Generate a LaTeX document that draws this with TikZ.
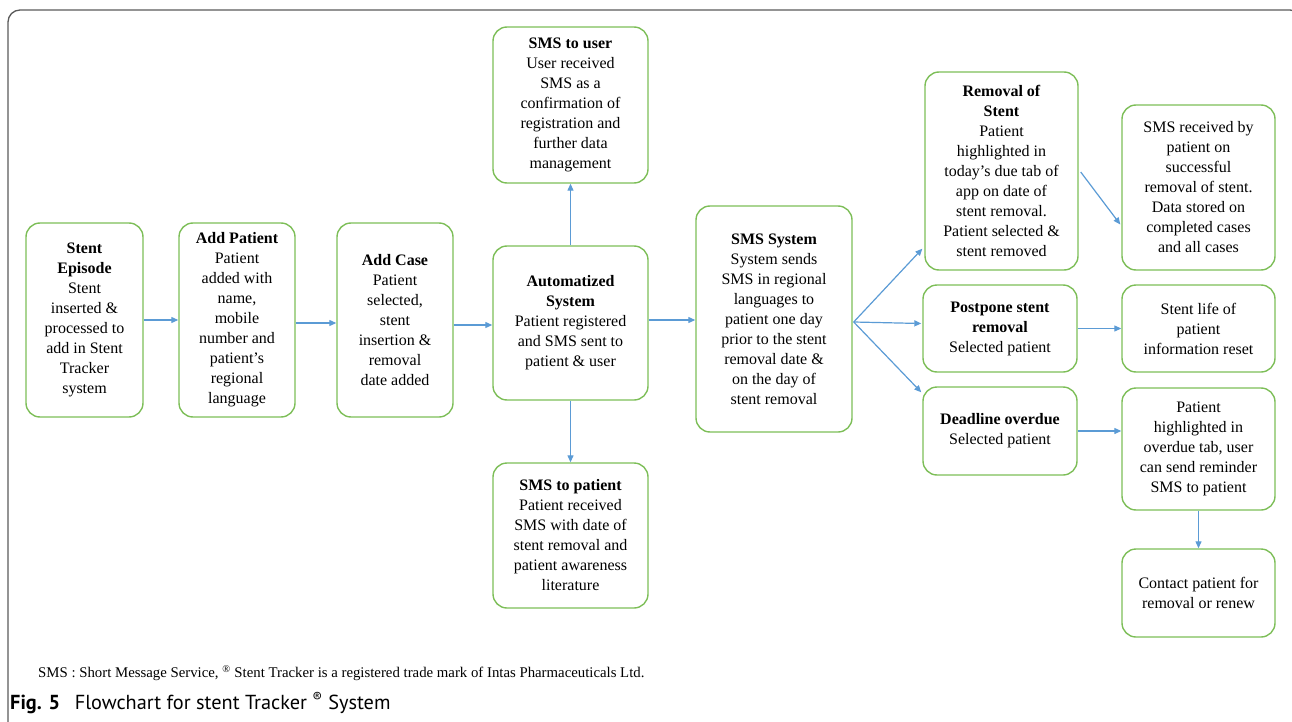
\documentclass[tikz,border=0pt]{standalone}
\usepackage{fontspec}
\setmainfont{Liberation Serif}
\newfontfamily\capfont{PT Sans}
\usetikzlibrary{arrows.meta,calc}
\definecolor{boxgreen}{HTML}{7DBE58}
\definecolor{arrowblue}{HTML}{5B9BD5}
\definecolor{framegray}{HTML}{5A5A5A}
\tikzset{
  fbox/.style={draw=boxgreen, line width=1.4pt, rounded corners=14pt, align=center,
    inner sep=0pt, font=\fontsize{16}{20}\selectfont},
  flow/.style={draw=arrowblue, line width=1.2pt, -{Triangle[length=7pt,width=6pt]}},
}
\begin{document}
\begin{tikzpicture}[x=1pt,y=-1pt]
\useasboundingbox (0,0) rectangle (1292,722);
\begin{scope}
\clip (0,0) rectangle (1292,722);
\draw[framegray, line width=1.3pt, rounded corners=12pt] (8,10) rectangle (1302,740);
\end{scope}

\node[fbox, minimum width=117, minimum height=194] (ep) at (84.5,320)
 {\textbf{Stent}\\\textbf{Episode}\\Stent\\inserted \&\\processed to\\add in Stent\\Tracker\\system};
\node[fbox, minimum width=116, minimum height=194] (addp) at (237,320)
 {\textbf{Add Patient}\\Patient\\added with\\name,\\mobile\\number and\\patient’s\\regional\\language};
\node[fbox, minimum width=116, minimum height=194] (addc) at (395,320)
 {\textbf{Add Case}\\Patient\\selected,\\stent\\insertion \&\\removal\\date added};
\node[fbox, minimum width=155, minimum height=154] (auto) at (570.5,323)
 {\textbf{Automatized}\\\textbf{System}\\Patient registered\\and SMS sent to\\patient \& user};
\node[fbox, minimum width=155, minimum height=156] (user) at (570.5,105)
 {\textbf{SMS to user}\\User received\\SMS as a\\confirmation of\\registration and\\further data\\management};
\node[fbox, minimum width=155, minimum height=145] (pat) at (570.5,535.5)
 {\textbf{SMS to patient}\\Patient received\\SMS with date of\\stent removal and\\patient awareness\\literature};
\node[fbox, minimum width=156, minimum height=226] (sms) at (774,319)
 {\textbf{SMS System}\\System sends\\SMS in regional\\languages to\\patient one day\\prior to the stent\\removal date \&\\on the day of\\stent removal};
\node[fbox, minimum width=153, minimum height=198] (rem) at (1001.5,171)
 {\textbf{Removal of}\\\textbf{Stent}\\Patient\\highlighted in\\today’s due tab of\\app on date of\\stent removal.\\Patient selected \&\\stent removed};
\node[fbox, minimum width=153, minimum height=165] (rcv) at (1198.5,187.5)
 {SMS received by\\patient on\\successful\\removal of stent.\\Data stored on\\completed cases\\and all cases};
\node[fbox, minimum width=154, minimum height=87] (post) at (1000,328.5)
 {\textbf{Postpone stent}\\\textbf{removal}\\Selected patient};
\node[fbox, minimum width=153, minimum height=87] (life) at (1198.5,328.5)
 {Stent life of\\patient\\information reset};
\node[fbox, minimum width=154, minimum height=88] (dead) at (1000,431)
 {\textbf{Deadline overdue}\\Selected patient};
\node[fbox, minimum width=153, minimum height=122] (hl) at (1198.5,449)
 {Patient\\highlighted in\\overdue tab, user\\can send reminder\\SMS to patient};
\node[fbox, minimum width=153, minimum height=88] (contact) at (1198.5,593)
 {Contact patient for\\removal or renew};

\draw[flow] (ep.east) -- (addp.west);
\draw[flow] ($(addp.east)+(0,3)$) -- ($(addc.west)+(0,3)$);
\draw[flow] ($(addc.east)+(0,5)$) -- ($(auto.west)+(0,2)$);
\draw[flow] ($(auto.east)+(0,-3)$) -- ($(sms.west)+(0,1)$);
\draw[flow] (auto.north) -- (user.south);
\draw[flow] (auto.south) -- (pat.north);
\coordinate (fan) at ($(sms.east)+(1,3)$);
\draw[flow] (fan) -- ($(rem.south west)+(-2,-22)$);
\draw[flow] (fan) -- ($(post.west)+(-1,-5)$);
\draw[flow] (fan) -- ($(dead.north west)+(-1,6)$);
\draw[flow] ($(rem.east)+(2,1)$) -- ($(rcv.west)+(-1,37)$);
\draw[flow] (post.east) -- (life.west);
\draw[flow] (dead.east) -- (dead.east -| hl.west);
\draw[flow] (hl.south) -- (contact.north);

\node[anchor=west, inner sep=0pt, font=\fontsize{14.8}{16}\selectfont] (note) at (38,673)
 {SMS : Short Message Service, \textsuperscript{®} Stent Tracker is a registered trade mark of Intas Pharmaceuticals Ltd.};
\node[anchor=west, inner sep=0pt, font=\capfont\fontsize{20.3}{22}\selectfont] (cap) at (10,703)
 {\textbf{Fig. 5}\hspace{0.45em} Flowchart for stent Tracker \textsuperscript{®} System};
\end{tikzpicture}
\end{document}
